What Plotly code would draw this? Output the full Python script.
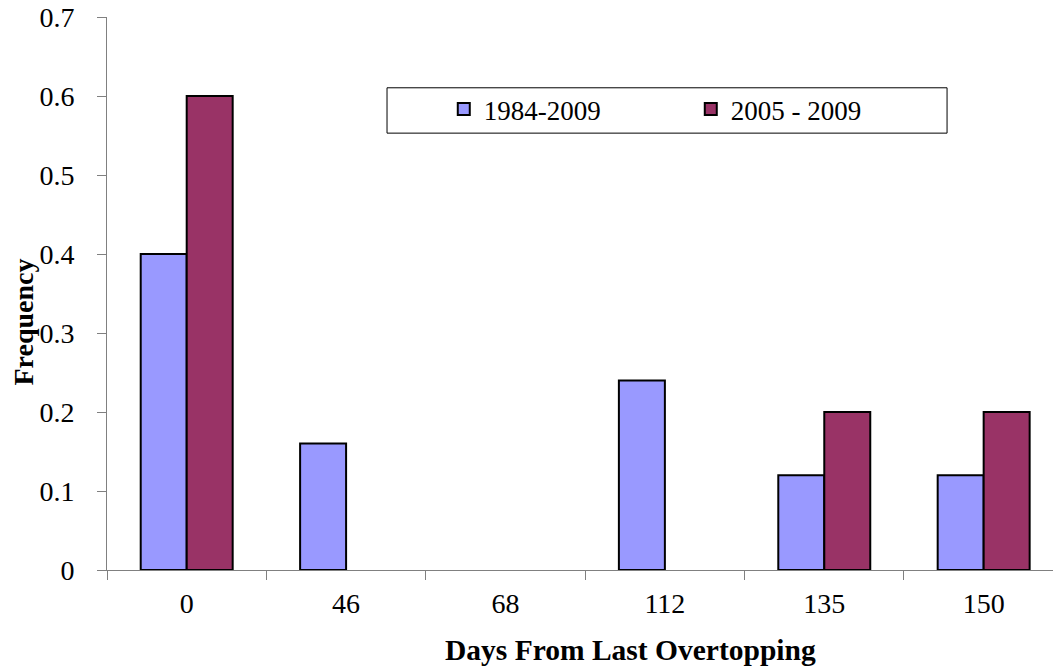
import plotly.graph_objects as go

categories = ["0", "46", "68", "112", "135", "150"]
series_1984_2009 = [0.4, 0.16, 0, 0.24, 0.12, 0.12]
series_2005_2009 = [0.6, 0, 0, 0, 0.2, 0.2]
y_ticks = [0, 0.1, 0.2, 0.3, 0.4, 0.5, 0.6, 0.7]

FONT = "Liberation Serif"


def outline(values):
    return [2 if v > 0 else 0 for v in values]


fig = go.Figure()
fig.add_trace(go.Bar(x=categories, y=series_1984_2009, name="1984-2009",
                     marker=dict(color="#9999FF",
                                 line=dict(color="black", width=outline(series_1984_2009)))))
fig.add_trace(go.Bar(x=categories, y=series_2005_2009, name="2005 - 2009",
                     marker=dict(color="#993366",
                                 line=dict(color="black", width=outline(series_2005_2009)))))

fig.update_layout(
    width=1053, height=670,
    margin=dict(l=107, r=0, t=17, b=100, autoexpand=False),
    paper_bgcolor="white", plot_bgcolor="white",
    barmode="group", bargap=0.423, bargroupgap=0,
    font=dict(family=FONT, size=28, color="black"),
    showlegend=True,
    legend=dict(orientation="h", x=0.356, y=0.877, xanchor="left", yanchor="top",
                borderwidth=0, bgcolor="rgba(0,0,0,0)",
                font=dict(family=FONT, size=27), entrywidth=202,
                itemwidth=30, tracegroupgap=0),
    xaxis=dict(type="category", range=[-0.5, 5.435], tickson="boundaries",
               ticks="outside", ticklen=9, tickcolor="#808080", tickwidth=1,
               showline=True, linecolor="#808080", linewidth=1, automargin=False,
               showgrid=False, tickfont=dict(size=28), ticklabelstandoff=8,
               ticklabeloverflow="allow"),
    yaxis=dict(range=[0, 0.7], tickvals=y_ticks, ticks="outside", ticklen=9,
               tickcolor="#808080", showline=True, linecolor="#808080", linewidth=1,
               showgrid=False, zeroline=False, automargin=False,
               tickfont=dict(size=28), ticklabelstandoff=17,
               ticklabeloverflow="allow"),
    shapes=[
        dict(type="rect", xref="paper", yref="paper", x0=0.296, x1=0.888,
             y0=0.790, y1=0.872, line=dict(color="black", width=1),
             fillcolor="white", layer="below"),
    ],
    annotations=[
        dict(text="<b>Days From Last Overtopping</b>", xref="paper", yref="paper",
             x=0.553, y=-0.145, xanchor="center", yanchor="middle", showarrow=False,
             font=dict(size=29.5)),
        dict(text="<b>Frequency</b>", xref="paper", yref="paper",
             x=-0.0885, y=0.448, xanchor="center", yanchor="middle", showarrow=False,
             textangle=-90, font=dict(size=28)),
    ],
)

fig.write_html("out.html", config={"displayModeBar": False},
               post_script="document.body.style.margin='0';document.body.style.padding='0';")
